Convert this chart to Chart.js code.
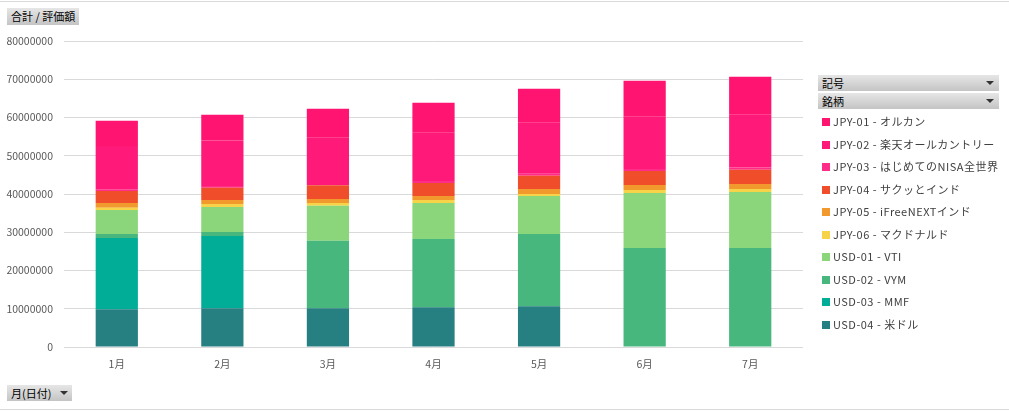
<!DOCTYPE html>
<html>
<head>
<meta charset="utf-8">
<script src="https://cdn.jsdelivr.net/npm/chart.js@4/dist/chart.umd.min.js"></script>
<style>
  html, body { margin: 0; padding: 0; background: #fff; }
  body { width: 1009px; height: 411px; position: relative; overflow: hidden; font-family: "Noto Sans CJK JP", "Noto Sans", sans-serif; }
  #wrap { position: absolute; left: 0; top: 0; width: 1009px; height: 411px; }
  .hline { position: absolute; left: 0; width: 1009px; height: 1px; background: #d9d9d9; }
  .btn { position: absolute; background: linear-gradient(#e6e6e6, #c4c4c4); color: #000; font-size: 11px; line-height: 16px; height: 16px; box-sizing: border-box; padding-left: 4px; white-space: nowrap; }
  .tri { position: absolute; width: 0; height: 0; border-left: 4px solid transparent; border-right: 4px solid transparent; border-top: 4px solid #333; }
  #legend { position: absolute; left: 822px; top: 113px; }
  .li { position: absolute; left: 0; height: 16px; font-size: 11px; color: #404040; white-space: nowrap; line-height: 16px; letter-spacing: 0.5px; }
  .sw { display: inline-block; width: 8px; height: 8px; margin-right: 3px; vertical-align: -0px; }
</style>
</head>
<body>
<div class="hline" style="top:1px"></div>
<div class="hline" style="top:409px"></div>
<div id="wrap"><canvas id="c" width="1009" height="411"></canvas></div>
<div class="btn" style="left:7px;top:8px;width:72px;height:17px;line-height:17px;">合計 / 評価額</div>
<div class="btn" style="left:818px;top:75px;width:181px;">記号<span class="tri" style="left:168px;top:6px"></span></div>
<div class="btn" style="left:818px;top:93px;width:181px;">銘柄<span class="tri" style="left:168px;top:6px"></span></div>
<div class="btn" style="left:7px;top:385px;width:65px;">月(日付)<span class="tri" style="left:53px;top:6px"></span></div>
<div id="legend"></div>
<script>
// Categories
const months = ['1月', '2月', '3月', '4月', '5月', '6月', '7月'];

// Series names (legend order, top of stack first)
const seriesNames = [
  'JPY-01 - オルカン',
  'JPY-02 - 楽天オールカントリー',
  'JPY-03 - はじめてのNISA全世界',
  'JPY-04 - サクッとインド',
  'JPY-05 - iFreeNEXTインド',
  'JPY-06 - マクドナルド',
  'USD-01 - VTI',
  'USD-02 - VYM',
  'USD-03 - MMF',
  'USD-04 - 米ドル'
];

// Series values (評価額)
const jpy01 = [6550000, 6730000, 7590000, 7850000, 8910000, 9430000, 9960000];
const jpy02 = [11340000, 11870000, 12400000, 12580000, 13290000, 13620000, 13800000];
const jpy03 = [450000, 440000, 0, 520000, 520000, 530000, 530000];
const jpy04 = [3140000, 3230000, 3580000, 3410000, 3490000, 3670000, 3750000];
const jpy05 = [1230000, 1050000, 1050000, 1050000, 1310000, 1310000, 1310000];
const jpy06 = [610000, 780000, 710000, 780000, 520000, 780000, 780000];
const usd01 = [6280000, 6550000, 9170000, 9430000, 9950000, 14410000, 14670000];
const usd02 = [1050000, 1050000, 17630000, 17820000, 18870000, 25860000, 25860000];
const usd03 = [18600000, 18860000, 0, 0, 0, 0, 0];
const usd04 = [9880000, 10140000, 10140000, 10400000, 10660000, 0, 0];

// Y tick values
const yTicks = [0, 10000000, 20000000, 30000000, 40000000, 50000000, 60000000, 70000000, 80000000];

const seriesValues = [jpy01, jpy02, jpy03, jpy04, jpy05, jpy06, usd01, usd02, usd03, usd04];
const seriesColors = ['#ff1472', '#ff1a79', '#ff2d87', '#f04e2b', '#f2992d', '#f7d34a', '#8bd67a', '#47b77e', '#02ad98', '#267f80'];

// Build datasets bottom-first for stacking
const datasets = [];
for (let i = seriesNames.length - 1; i >= 0; i--) {
  datasets.push({
    label: seriesNames[i],
    data: seriesValues[i],
    backgroundColor: seriesColors[i],
    borderWidth: 0,
    categoryPercentage: 1.0,
    barPercentage: 0.4
  });
}

// HTML legend
const lg = document.getElementById('legend');
seriesNames.forEach((n, i) => {
  const d = document.createElement('div');
  d.className = 'li';
  d.style.top = (i * 22.5) + 'px';
  d.innerHTML = '<span class="sw" style="background:' + seriesColors[i] + '"></span>' + n;
  lg.appendChild(d);
});

const tickFont = { family: '"Noto Sans CJK JP", "Noto Sans", sans-serif', size: 10.5 };

new Chart(document.getElementById('c'), {
  type: 'bar',
  data: { labels: months, datasets: datasets },
  options: {
    responsive: false,
    animation: false,
    events: [],
    layout: { padding: { left: 0, top: 41, right: 206, bottom: 39 } },
    plugins: { legend: { display: false }, tooltip: { enabled: false } },
    scales: {
      x: {
        stacked: true,
        grid: { display: false, drawTicks: false },
        border: { display: false },
        ticks: { color: '#595959', font: tickFont, padding: 11 },
        afterFit: (s) => { s.height = 25; }
      },
      y: {
        stacked: true,
        min: 0,
        max: 80000000,
        afterBuildTicks: (s) => { s.ticks = yTicks.map(v => ({ value: v })); },
        grid: { color: '#d9d9d9', lineWidth: 1, drawTicks: false },
        border: { display: false },
        ticks: { color: '#595959', font: tickFont, padding: 11, callback: (v) => String(v) },
        afterFit: (s) => { s.width = 64; }
      }
    }
  }
});
</script>
</body>
</html>
